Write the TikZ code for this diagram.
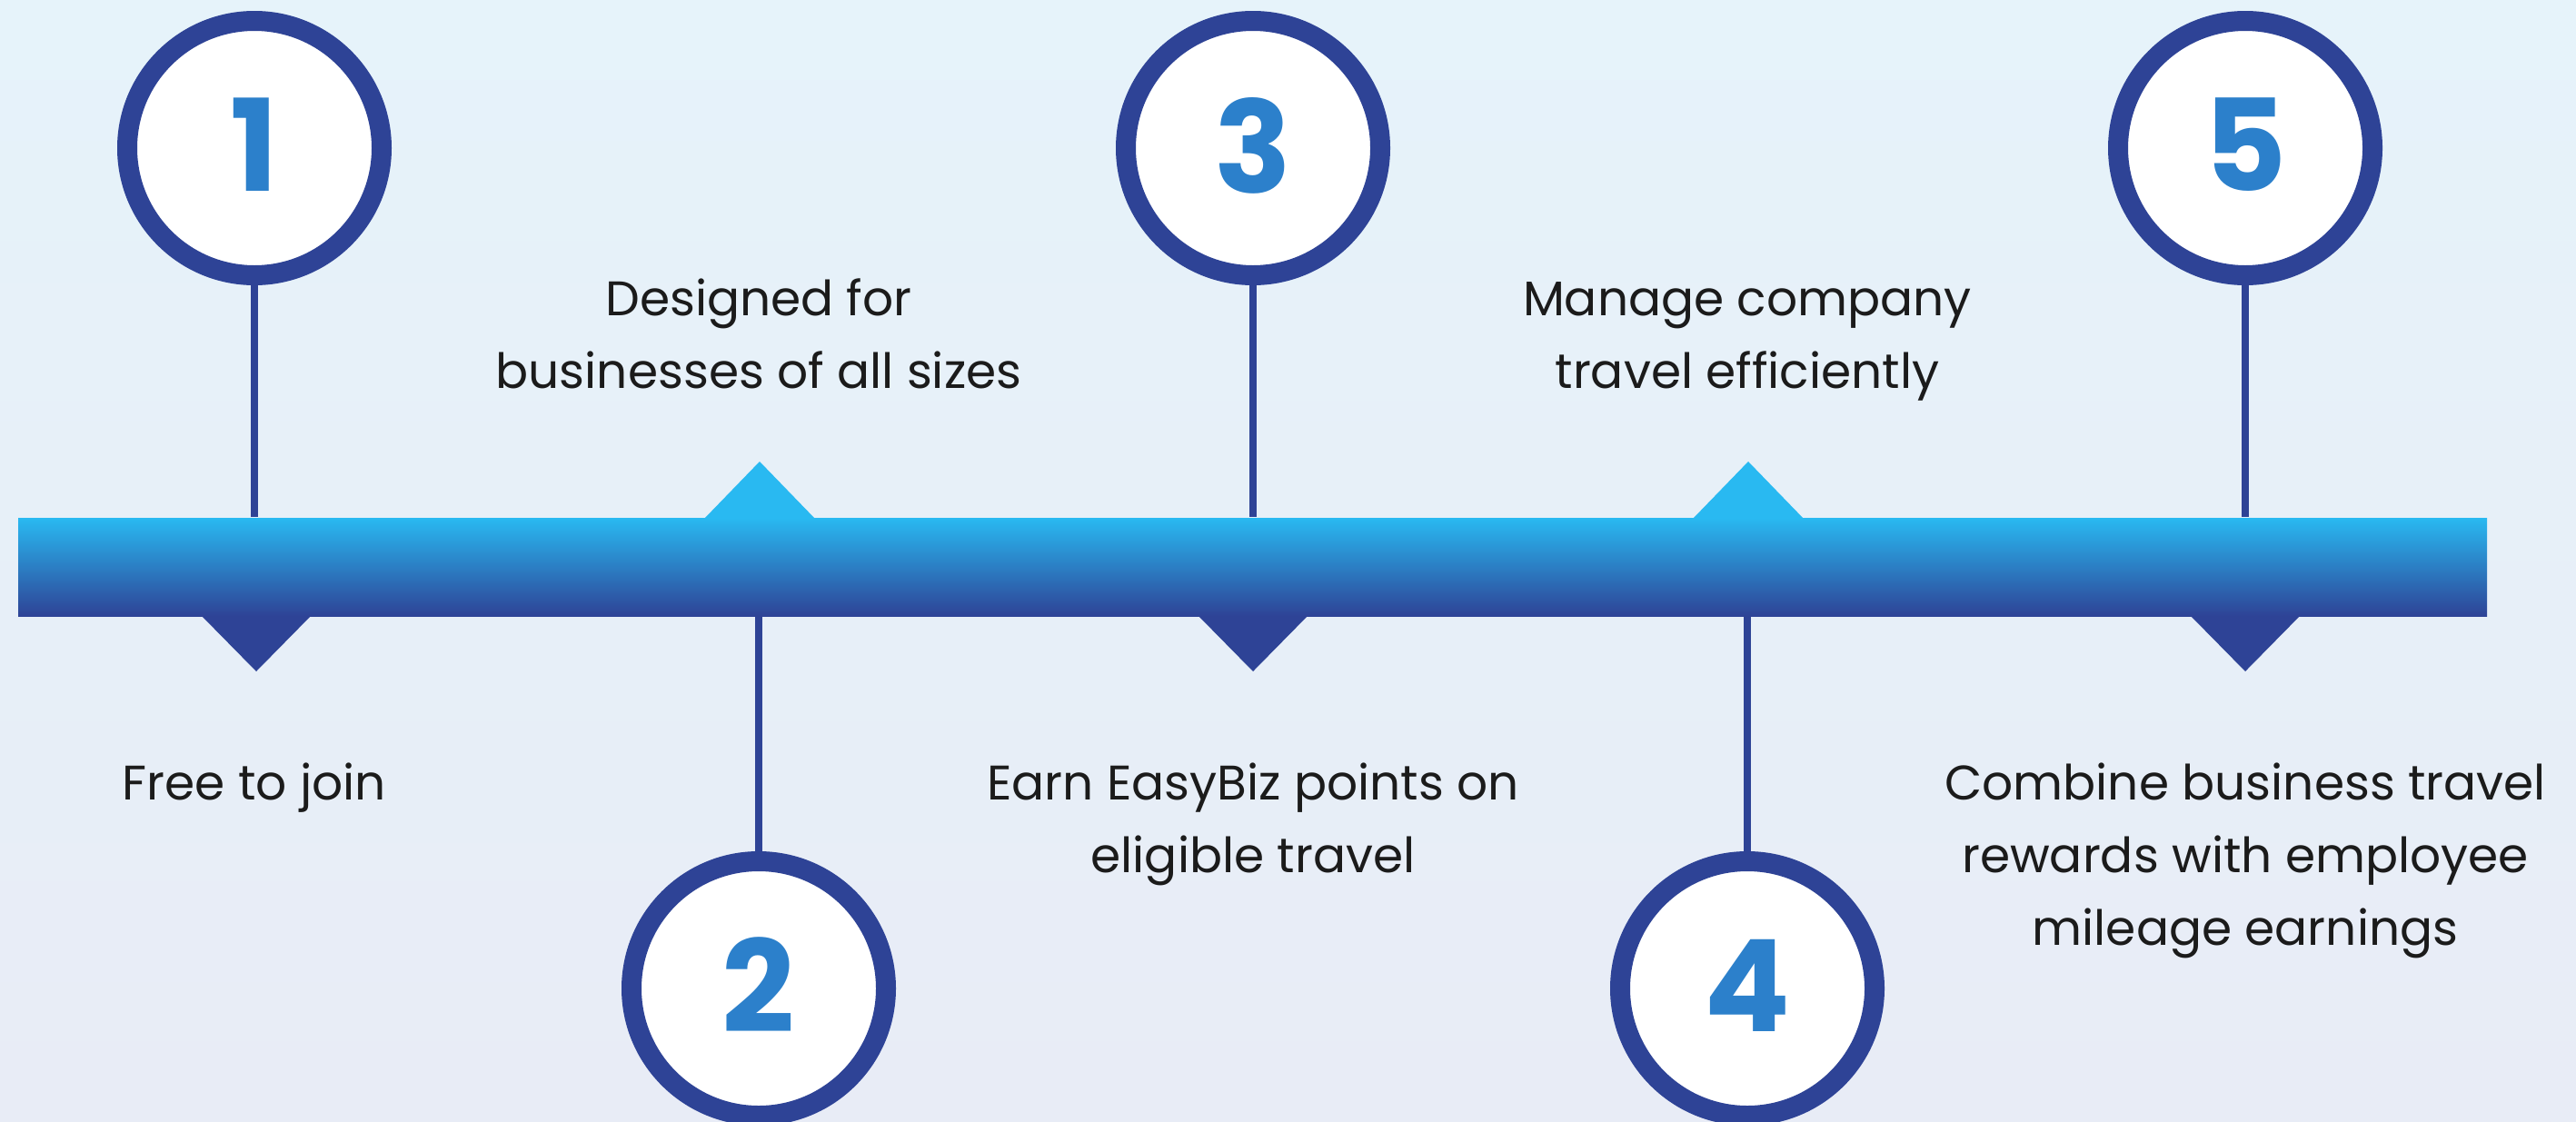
\documentclass[tikz,border=0pt]{standalone}
\usepackage{fontspec}
\setmainfont{Poppins}
\definecolor{navy}{HTML}{2E4396}
\definecolor{sky}{HTML}{29B9F1}
\definecolor{digit}{HTML}{2C80CB}
\definecolor{ink}{HTML}{1B1B1B}
\definecolor{bgtop}{HTML}{E6F3FA}
\definecolor{bgbot}{HTML}{E8ECF6}

\begin{document}
\begin{tikzpicture}[stage/.style={circle,draw=navy,line width=2.2mm,fill=white,minimum size=28mm,inner sep=0pt,
            text=digit,font=\fontsize{40}{40}\selectfont\bfseries,text depth=0.7mm},
        stem/.style={draw=navy,line width=0.8mm},
        caption/.style={align=center,text=ink,font=\fontsize{15.2}{22.7}\selectfont,inner sep=0pt,anchor=base}]
        \shade[top color=bgtop,bottom color=bgbot] (0,0) rectangle (28.35,12.34);
        \useasboundingbox (0,0) rectangle (28.35,12.34);
        % notches under and over the bar
        \fill[navy] (2.21,5.57) -- (2.82,4.95) -- (3.43,5.57) -- cycle;
        \fill[navy] (13.18,5.57) -- (13.79,4.95) -- (14.40,5.57) -- cycle;
        \fill[navy] (24.10,5.57) -- (24.71,4.95) -- (25.32,5.57) -- cycle;
        \fill[sky] (7.75,6.63) -- (8.36,7.26) -- (8.97,6.63) -- cycle;
        \fill[sky] (18.63,6.63) -- (19.24,7.26) -- (19.85,6.63) -- cycle;
        \node[minimum width=271.7mm,minimum height=10.8mm,inner sep=0pt,top color=sky,bottom color=navy] (bar) at (13.785,6.10) {};
        % steps
        \node[stage] (s1) at (2.80,10.71) {1};
        \node[stage] (s2) at (8.35,1.46) {2};
        \node[stage] (s3) at (13.79,10.71) {3};
        \node[stage] (s4) at (19.23,1.46) {4};
        \node[stage] (s5) at (24.71,10.71) {5};
        \draw[stem] (s1.south) -- (s1.south |- bar.north);
        \draw[stem] (s2.north) -- (s2.north |- bar.south);
        \draw[stem] (s3.south) -- (s3.south |- bar.north);
        \draw[stem] (s4.north) -- (s4.north |- bar.south);
        \draw[stem] (s5.south) -- (s5.south |- bar.north);
        % texts (base = last line)
        \node[caption] (t1) at (2.80,3.54) {Free to join};
        \node[caption] (t2) at (8.35,8.07) {Designed for\\businesses of all sizes};
        \node[caption] (t3) at (13.79,2.74) {Earn EasyBiz points on\\eligible travel};
        \node[caption] (t4) at (19.23,8.07) {Manage company\\travel efficiently};
        \node[caption] (t5) at (24.71,1.94) {Combine business travel\\rewards with employee\\mileage earnings};
    \end{tikzpicture}
\end{document}
